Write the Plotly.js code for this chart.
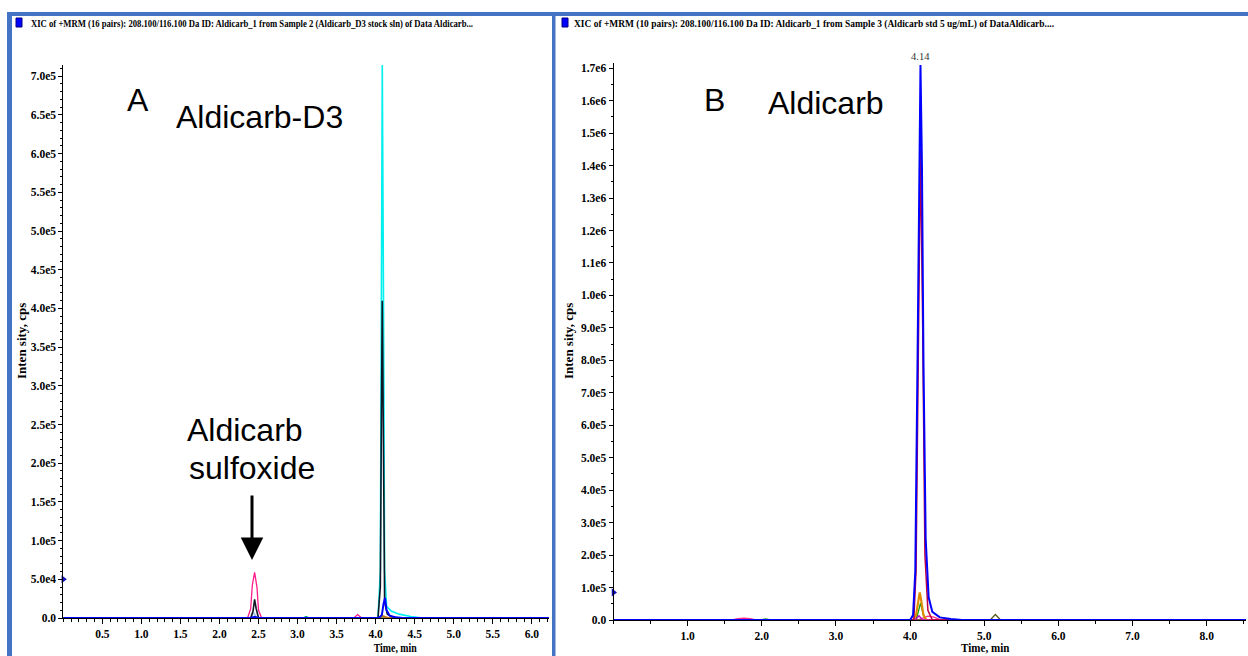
<!DOCTYPE html>
<html><head><meta charset="utf-8">
<script src="https://cdn.plot.ly/plotly-3.0.1.min.js"></script>
<style>html,body{margin:0;padding:0;background:#fff;}#chart{width:1248px;height:656px;}</style>
</head><body><div id="chart"></div>
<script>
// ---------- DATA ----------
// Panel A : Aldicarb-D3 stock solution
const tA_pink  = [0, 2.36, 2.40, 2.42, 2.45, 2.48, 2.50, 2.54, 3.72, 3.77, 3.82, 6.22];
const iA_pink  = [0, 0, 12000, 42000, 59000, 40000, 10000, 0, 0, 4500, 0, 0];
const tA_lblue = [0, 2.40, 2.44, 2.48, 6.22];
const iA_lblue = [0, 0, 7000, 0, 0];
const tA_green = [0, 3.07, 3.11, 3.15, 6.22];
const iA_green = [0, 0, 2000, 0, 0];
const tA_orange= [0, 4.04, 4.09, 4.16, 6.22];
const iA_orange= [0, 0, 2500, 0, 0];
const tA_cyan  = [0, 4.03, 4.06, 4.075, 4.085, 4.10, 4.115, 4.14, 4.20, 4.30, 4.45, 4.60, 6.22];
const iA_cyan  = [0, 0, 60000, 450000, 715000, 420000, 60000, 15000, 9000, 5000, 2000, 0, 0];
const tA_black = [0, 2.40, 2.43, 2.45, 2.47, 2.50, 4.03, 4.06, 4.075, 4.085, 4.10, 4.115, 4.15, 4.20, 4.30, 6.22];
const iA_black = [0, 0, 9000, 24000, 12000, 0, 0, 40000, 280000, 410000, 220000, 20000, 5000, 2000, 0, 0];
const tA_blue  = [0, 2.40, 2.45, 2.50, 4.04, 4.08, 4.10, 4.12, 4.14, 4.18, 4.25, 4.35, 6.22];
const iA_blue  = [0, 0, 1500, 0, 0, 4000, 18000, 26000, 10000, 3000, 1000, 0, 0];

// Panel B : Aldicarb std 5 ug/mL
const tB_pink  = [0, 1.60, 1.68, 1.76, 1.84, 1.92, 4.10, 4.16, 4.24, 4.32, 4.42, 8.53];
const iB_pink  = [0, 0, 4500, 5500, 4000, 0, 0, 6000, 12000, 9000, 0, 0];
const tB_green = [0, 1.98, 2.05, 2.12, 4.07, 4.10, 4.14, 4.18, 4.21, 8.53];
const iB_green = [0, 0, 3000, 0, 0, 15000, 52000, 15000, 0, 0];
const tB_olive = [0, 5.08, 5.15, 5.22, 8.53];
const iB_olive = [0, 0, 17000, 0, 0];
const tB_orange= [0, 4.04, 4.08, 4.11, 4.13, 4.15, 4.18, 4.22, 8.53];
const iB_orange= [0, 0, 15000, 60000, 85000, 60000, 15000, 0, 0];
const tB_magenta=[0, 4.07, 4.12, 4.17, 8.53];
const iB_magenta=[0, 0, 13000, 0, 0];
const tB_red   = [0, 4.05, 4.08, 4.11, 4.14, 4.17, 4.20, 4.24, 4.30, 8.53];
const iB_red   = [0, 0, 150000, 900000, 1450000, 900000, 200000, 30000, 0, 0];
const tB_blue  = [0, 4.00, 4.04, 4.07, 4.10, 4.12, 4.14, 4.16, 4.18, 4.21, 4.25, 4.30, 4.40, 4.55, 4.70, 8.53];
const iB_blue  = [0, 0, 15000, 150000, 800000, 1400000, 1710000, 1400000, 800000, 250000, 70000, 25000, 8000, 3000, 0, 0];

// labelled peak apex
const peakB_time = [4.14];
const peakB_int  = [1710000];

// y-axis marker arrows (threshold marks)
const markA = [50000];
const markB = [85000];

// tick labels
const xA_ticks = [0.5,1.0,1.5,2.0,2.5,3.0,3.5,4.0,4.5,5.0,5.5,6.0];
const xA_text  = ["0.5","1.0","1.5","2.0","2.5","3.0","3.5","4.0","4.5","5.0","5.5","6.0"];
const yA_ticks = [0,5e4,1e5,1.5e5,2e5,2.5e5,3e5,3.5e5,4e5,4.5e5,5e5,5.5e5,6e5,6.5e5,7e5];
const yA_text  = ["0.0","5.0e4","1.0e5","1.5e5","2.0e5","2.5e5","3.0e5","3.5e5","4.0e5","4.5e5","5.0e5","5.5e5","6.0e5","6.5e5","7.0e5"];
const xB_ticks = [1,2,3,4,5,6,7,8];
const xB_text  = ["1.0","2.0","3.0","4.0","5.0","6.0","7.0","8.0"];
const yB_ticks = [0,1e5,2e5,3e5,4e5,5e5,6e5,7e5,8e5,9e5,1e6,1.1e6,1.2e6,1.3e6,1.4e6,1.5e6,1.6e6,1.7e6];
const yB_text  = ["0.0","1.0e5","2.0e5","3.0e5","4.0e5","5.0e5","6.0e5","7.0e5","8.0e5","9.0e5","1.0e6","1.1e6","1.2e6","1.3e6","1.4e6","1.5e6","1.6e6","1.7e6"];

const headerA = "XIC of +MRM (16 pairs): 208.100/116.100 Da ID: Aldicarb_1 from Sample 2 (Aldicarb_D3 stock sln) of Data Aldicarb...";
const headerB = "XIC of +MRM (10 pairs): 208.100/116.100 Da ID: Aldicarb_1 from Sample 3 (Aldicarb std 5 ug/mL) of DataAldicarb....";

// ---------- LAYOUT HELPERS ----------
const W = 1248, H = 656;
const px = x => x / W;
const py = y => 1 - y / H;
const FRAME = "#4472C4";
const serif = "Liberation Serif";
const sans  = "Liberation Sans";

function tr(t, i, color, xa, ya, w) {
  return {x: t, y: i, type: "scatter", mode: "lines", xaxis: xa, yaxis: ya,
          line: {color: color, width: w || 1.3}, hoverinfo: "skip", showlegend: false};
}

const data = [
  tr(tA_pink,  iA_pink,  "#FF1A8C", "x", "y"),
  tr(tA_lblue, iA_lblue, "#9EC3E6", "x", "y"),
  tr(tA_green, iA_green, "#00B050", "x", "y"),
  tr(tA_orange,iA_orange,"#C07020", "x", "y", 2),
  tr(tA_cyan,  iA_cyan,  "#00F0F0", "x", "y", 1.6),
  tr(tA_black, iA_black, "#101828", "x", "y", 1.6),
  tr(tA_blue,  iA_blue,  "#0000FF", "x", "y", 2),
  {x: [0], y: markA, type: "scatter", mode: "markers", xaxis: "x", yaxis: "y", cliponaxis: false,
   marker: {symbol: "triangle-right", size: 7, color: "#1010C0"}, hoverinfo: "skip", showlegend: false},

  tr(tB_pink,  iB_pink,  "#FF2A8A", "x2", "y2"),
  tr(tB_green, iB_green, "#10A010", "x2", "y2"),
  tr(tB_olive, iB_olive, "#5A5A1A", "x2", "y2"),
  tr(tB_orange,iB_orange,"#E08A00", "x2", "y2", 2.2),
  tr(tB_magenta,iB_magenta,"#C000C0", "x2", "y2"),
  tr(tB_red,   iB_red,   "#C0003C", "x2", "y2", 1.5),
  tr(tB_blue,  iB_blue,  "#0000FF", "x2", "y2", 2),
  {x: [0], y: markB, type: "scatter", mode: "markers", xaxis: "x2", yaxis: "y2", cliponaxis: false,
   marker: {symbol: "triangle-right", size: 7, color: "#1010C0"}, hoverinfo: "skip", showlegend: false}
];

const boldSerif = (s) => ({family: serif, size: s, color: "#000", weight: "bold"});
const tickFont = boldSerif(11.5);
function xax(domain, range, tv, tt, minorD) {
  return {domain: domain, range: range, tickmode: "array", tickvals: tv, ticktext: tt,
          ticks: "outside", ticklen: 5, tickcolor: "#000", tickwidth: 1,
          minor: {tick0: 0, dtick: minorD, ticks: "outside", ticklen: 3, tickcolor: "#000"},
          showline: true, linecolor: "#000", linewidth: 1, showgrid: false, zeroline: false,
          tickfont: tickFont, fixedrange: true};
}
function yax(domain, range, tv, tt, minorD, anchor) {
  return {domain: domain, range: range, anchor: anchor, tickmode: "array", tickvals: tv, ticktext: tt,
          ticks: "outside", ticklen: 4, tickcolor: "#000", tickwidth: 1,
          minor: {tick0: 0, dtick: minorD, ticks: "outside", ticklen: 2, tickcolor: "#000"},
          showline: true, linecolor: "#000", linewidth: 1, showgrid: false, zeroline: false,
          tickfont: tickFont, fixedrange: true};
}
function note(x, y, text, font, extra) {
  return Object.assign({xref: "paper", yref: "paper", x: px(x), y: py(y), xanchor: "center", yanchor: "middle",
                        showarrow: false, text: text, font: font}, extra || {});
}
const big = {family: sans, size: 32, color: "#000"};

const layout = {
  width: W, height: H,
  margin: {l: 0, r: 0, t: 0, b: 0},
  paper_bgcolor: "#fff", plot_bgcolor: "#fff",
  showlegend: false,
  xaxis:  xax([px(63.3), px(549)], [0, 6.22], xA_ticks, xA_text, 0.1),
  yaxis:  yax([py(618), py(65)], [0, 7.145e5], yA_ticks, yA_text, 1e4, "x"),
  xaxis2: Object.assign(xax([px(613.5), px(1246)], [0, 8.53], xB_ticks, xB_text, 0.5), {anchor: "y2"}),
  yaxis2: yax([py(620), py(63)], [0, 1.716e6], yB_ticks, yB_text, 5e4, "x2"),
  shapes: [
    {type: "rect", xref: "paper", yref: "paper", x0: px(7), x1: 1, y0: py(16), y1: py(12), fillcolor: FRAME, line: {width: 0}},
    {type: "rect", xref: "paper", yref: "paper", x0: px(7), x1: px(12), y0: 0, y1: py(12), fillcolor: FRAME, line: {width: 0}},
    {type: "rect", xref: "paper", yref: "paper", x0: px(552), x1: px(555.5), y0: 0, y1: py(12), fillcolor: FRAME, line: {width: 0}},
    {type: "rect", xref: "paper", yref: "paper", x0: px(16), x1: px(22), y0: py(27), y1: py(18), fillcolor: "#0000FF", line: {color: "#000080", width: 1}},
    {type: "rect", xref: "paper", yref: "paper", x0: px(562), x1: px(568), y0: py(27), y1: py(18), fillcolor: "#0000FF", line: {color: "#000080", width: 1}}
  ],
  annotations: [
    note(29, 24, headerA, boldSerif(10.5), {xanchor: "left", align: "left"}),
    note(572, 24, headerB, boldSerif(10.5), {xanchor: "left", align: "left"}),
    note(21, 341, "Inten sity, cps", boldSerif(13), {textangle: -90}),
    note(568, 341, "Inten sity, cps", boldSerif(13), {textangle: -90}),
    note(395, 648, "Time, min", boldSerif(12)),
    note(985, 648, "Time, min", boldSerif(12)),
    note(138, 100, "A", big),
    note(259, 117, "Aldicarb-D3", big),
    note(245, 430, "Aldicarb", big),
    note(252, 468, "sulfoxide", big),
    note(714, 100, "B", big),
    note(826, 103, "Aldicarb", big),
    {xref: "paper", yref: "paper", x: px(252), y: py(560), ax: 0, ay: -66, text: "", showarrow: true,
     arrowhead: 2, arrowsize: 1.5, arrowwidth: 3, arrowcolor: "#000"},
    {xref: "x2", yref: "y2", x: peakB_time[0], y: peakB_int[0], xanchor: "center", yanchor: "bottom", yshift: 1, showarrow: false,
     text: peakB_time[0].toFixed(2), font: {family: serif, size: 10.5, color: "#333"}}
  ]
};

// condensed instrument-style lettering: squeeze selected texts to the widths seen in the reference
const squeeze = [[headerA, 442], [headerB, 480]];
const squeezeTime = [0.82, 0.92];

Plotly.newPlot("chart", data, layout, {staticPlot: true, displayModeBar: false}).then(gd => {
  let timeIdx = 0;
  gd.querySelectorAll("text.annotation-text").forEach(el => {
    const s = el.textContent;
    const hit = squeeze.find(q => q[0] === s);
    if (hit) {
      el.setAttribute("textLength", hit[1]);
      el.setAttribute("lengthAdjust", "spacingAndGlyphs");
    } else if (s === "Time, min") {
      const L = el.getComputedTextLength();
      el.setAttribute("textLength", L * squeezeTime[timeIdx++]);
      el.setAttribute("lengthAdjust", "spacingAndGlyphs");
    }
  });
});
</script></body></html>
